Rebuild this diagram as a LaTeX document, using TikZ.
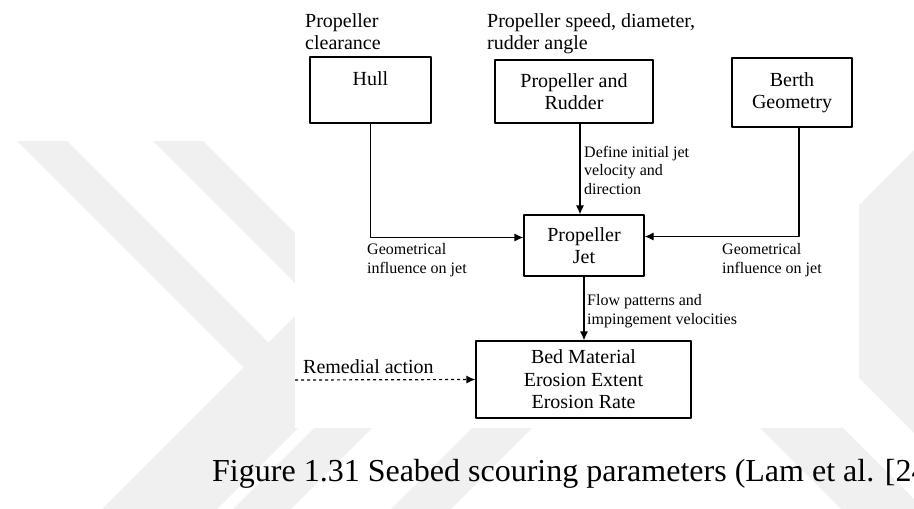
\documentclass[tikz,border=0pt]{standalone}
\usepackage{fontspec}
\setmainfont{Liberation Serif}
\usetikzlibrary{arrows.meta}
\tikzset{
  box/.style={draw, line width=1.2pt, align=center, inner sep=0pt,
    font=\fontsize{20}{22.5}\selectfont},
  note/.style={align=left, inner sep=0pt, font=\fontsize{20}{22}\selectfont},
  smallnote/.style={align=left, inner sep=0pt, font=\fontsize{16}{18.5}\selectfont},
  wmark/.style={fill=black!6, draw=none}
}
\begin{document}
\begin{tikzpicture}[x=1pt, y=-1pt, line join=round, >={Latex[length=9pt,width=8pt]}]
\useasboundingbox (0,0) rectangle (914,509);
% faint watermark behind the figure
\fill[wmark] (17,141)--(67,141)--(268.5,342.5)--(311.5,299.5)--(153,141)--(203,141)--(394,332)--(217,509)--(102,509)--(243.5,367.5)--cycle;
\fill[wmark] (233,509)--(314,428)--(372,428)--(291,509)--cycle;
\fill[wmark] (391,509)--(472,428)--(532,428)--(451,509)--cycle;
\fill[wmark] (914,150)--(800,264)--(800,319)--(914,433)--cycle;
\fill[wmark] (760,428)--(843,428)--(924,509)--(841,509)--cycle;
\fill[white] (295,0) rectangle (859,428);
% boxes
\node (hull) [box, minimum width=121pt, minimum height=66pt] at (370.5,90) {Hull\\\mbox{}};
\node (prop) [box, minimum width=158pt, minimum height=63pt] at (574,91.5) {Propeller and\\Rudder};
\node (berth) [box, minimum width=120pt, minimum height=69pt] at (792,92.5) {Berth\\Geometry};
\node (jet) [box, minimum width=120pt, minimum height=61pt] at (584,245.5) {Propeller\\Jet};
\node (bed) [box, minimum width=215pt, minimum height=77pt] at (583.5,379.5) {Bed Material\\Erosion Extent\\Erosion Rate};
% texts (base = last line)
\node (hullnote) [note, anchor=base west] at (305,49) {Propeller\\clearance};
\node (propnote) [note, anchor=base west] at (487,49) {Propeller speed, diameter,\\rudder angle};
\node (geoleft) [smallnote, anchor=base west] at (367,273) {Geometrical\\influence on jet};
\node (georight) [smallnote, anchor=base west] at (722,273) {Geometrical\\influence on jet};
\node (jetnote) [smallnote, anchor=base west] at (584,194) {Define initial jet\\velocity and\\direction};
\node (flownote) [smallnote, anchor=base west] at (587,324) {Flow patterns and\\impingement velocities};
\node (remnote) [note, anchor=base west] at (303,373) {Remedial action};
\node (caption) [anchor=base west, inner sep=0pt, font=\fontsize{32}{36}\selectfont] at (212,481) {Figure 1.31 Seabed scouring parameters (Lam et al. [24};
% connectors
\coordinate (rem) at (295,380);
\draw[line width=1.2pt, ->] (hull.south) |- ([yshift=8pt]jet.west);
\draw[line width=1.2pt, ->] ([xshift=7pt]berth.south) |- ([yshift=9pt]jet.east);
\draw[line width=1.2pt, ->] ([xshift=6pt]prop.south) -- ([xshift=-4pt]jet.north);
\draw[line width=1.2pt, ->] (jet.south) -- (jet.south |- bed.north);
\draw[line width=1.2pt, ->, dashed] (rem) -- (bed.west);
\end{tikzpicture}
\end{document}
